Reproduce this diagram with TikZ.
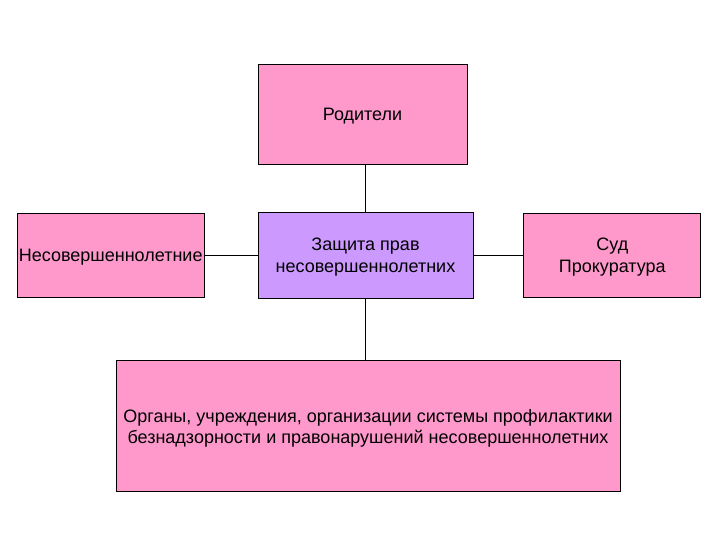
\documentclass[tikz,border=0pt]{standalone}
\usepackage{fontspec}
\setmainfont{Liberation Sans}
\usetikzlibrary{positioning}
\definecolor{ppink}{HTML}{FF99CC}
\definecolor{plilac}{HTML}{CC99FF}

\begin{document}
\begin{tikzpicture}[
  font=\fontsize{18}{21.5}\selectfont,
  box/.style={draw, line width=0.8pt, align=center, inner sep=0pt,
    text depth=-1pt, fill=ppink},
  mainbox/.style={box, fill=plilac, text depth=-3pt},
  link/.style={line width=0.8pt}
]
\useasboundingbox[fill=white] (0,0) rectangle (720pt,540pt);
\node[mainbox, minimum width=215pt, minimum height=86pt] (Z) at (365.5pt,285pt)
  {Защита прав\\несовершеннолетних};
\node[box, minimum width=209pt, minimum height=100pt, above=47pt of Z, xshift=-3pt,
  text depth=-6pt] (R)
  {Родители};
\node[box, minimum width=187pt, minimum height=84pt, left=53pt of Z,
  text depth=-4pt] (N)
  {Несовершеннолетние};
\node[box, minimum width=177pt, minimum height=84pt, right=50pt of Z] (S)
  {Суд\\Прокуратура};
\node[box, minimum width=504pt, minimum height=131pt, below=62pt of Z, xshift=2.5pt] (O)
  {Органы, учреждения, организации системы профилактики\\
   безнадзорности и правонарушений несовершеннолетних};
\draw[link] (R.south -| Z.north) -- (Z.north);
\draw[link] (N) -- (Z);
\draw[link] (Z) -- (S);
\draw[link] (Z.south) -- (Z.south |- O.north);
\end{tikzpicture}
\end{document}
